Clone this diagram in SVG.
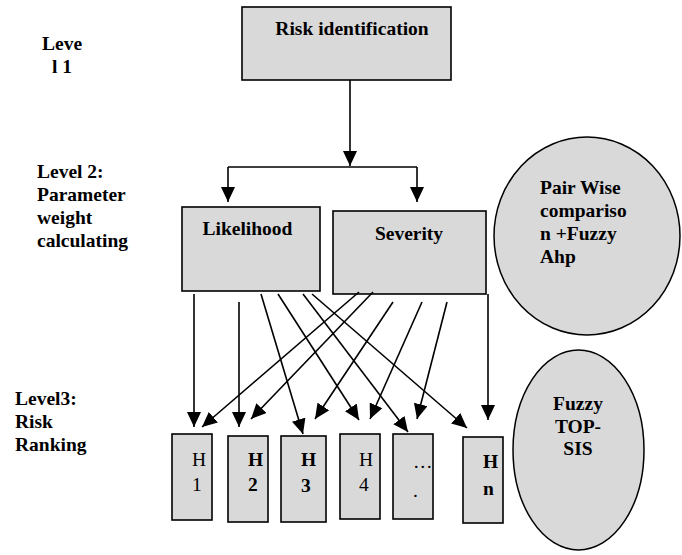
<svg xmlns="http://www.w3.org/2000/svg" width="682" height="555" viewBox="0 0 682 555">
<style>
text{font-family:"Liberation Serif","Times New Roman",serif;font-size:19.5px;fill:#000}
.b{font-weight:bold}
.box{fill:#d9d9d9;stroke:#000;stroke-width:1.6}
.ell{fill:#d9d9d9;stroke:#000;stroke-width:1.5}
.c{text-anchor:middle}
.ln{stroke:#000;stroke-width:1.6;fill:none}
.ar{marker-end:url(#ah)}
</style>
<defs>
<marker id="ah" markerUnits="userSpaceOnUse" markerWidth="15" markerHeight="14" refX="15" refY="7" orient="auto">
<path d="M0,0 L15,7 L0,14 z" fill="#000"/>
</marker>
</defs>
<g id="labels">
<text class="b" x="42" y="50">Leve</text>
<text class="b" x="52" y="73">l 1</text>
<text class="b" x="37" y="178">Level 2:</text>
<text class="b" x="37" y="201">Parameter</text>
<text class="b" x="37" y="224">weight</text>
<text class="b" x="37" y="247">calculating</text>
<text class="b" x="15" y="405">Level3:</text>
<text class="b" x="15" y="428">Risk</text>
<text class="b" x="15" y="451">Ranking</text>
</g>
<g id="risk-identification">
<rect class="box" x="242" y="7" width="209" height="73"/>
<text class="b c" x="352" y="35">Risk identification</text>
</g>
<g id="likelihood">
<rect class="box" x="182" y="207" width="138" height="84"/>
<text class="b c" x="247.5" y="235">Likelihood</text>
</g>
<g id="severity">
<rect class="box" x="333" y="211" width="153" height="83"/>
<text class="b c" x="409" y="240">Severity</text>
</g>
<g id="pairwise">
<ellipse class="ell" cx="587" cy="236" rx="93" ry="99"/>
<text class="b" x="540" y="194">Pair Wise</text>
<text class="b" x="540" y="217">compariso</text>
<text class="b" x="540" y="240">n +Fuzzy</text>
<text class="b" x="540" y="263">Ahp</text>
</g>
<g id="fuzzy-topsis">
<ellipse class="ell" cx="578.5" cy="450" rx="65.5" ry="100"/>
<text class="b c" x="578" y="410">Fuzzy</text>
<text class="b c" x="578" y="433">TOP-</text>
<text class="b c" x="578" y="455">SIS</text>
</g>
<g id="h1">
<rect class="box" x="172" y="434" width="40" height="86"/>
<text x="192" y="466">H</text>
<text x="192" y="491">1</text>
</g>
<g id="h2">
<rect class="box" x="228" y="436" width="40" height="86"/>
<text class="b" x="248" y="466">H</text>
<text class="b" x="248" y="491">2</text>
</g>
<g id="h3">
<rect class="box" x="281" y="436" width="45" height="86"/>
<text class="b" x="301" y="466">H</text>
<text class="b" x="301" y="492">3</text>
</g>
<g id="h4">
<rect class="box" x="340" y="434" width="40" height="85"/>
<text x="359" y="466">H</text>
<text x="359" y="491">4</text>
</g>
<g id="hdots">
<rect class="box" x="393" y="434" width="40" height="85"/>
<text x="413" y="468">…</text>
<text x="413" y="497">.</text>
</g>
<g id="hn">
<rect class="box" x="463" y="437" width="40" height="86"/>
<text class="b" x="483" y="468">H</text>
<text class="b" x="483" y="495">n</text>
</g>
<g id="connectors">
<line class="ln ar" x1="350" y1="80" x2="350" y2="166"/>
<line class="ln" x1="228" y1="167" x2="417" y2="167"/>
<line class="ln ar" x1="228" y1="167" x2="228" y2="202"/>
<line class="ln ar" x1="417" y1="167" x2="417" y2="202"/>
<line class="ln ar" x1="194" y1="294" x2="194" y2="427"/>
<line class="ln ar" x1="359" y1="292" x2="202" y2="427"/>
<line class="ln ar" x1="239" y1="302" x2="239" y2="427"/>
<line class="ln ar" x1="373" y1="292" x2="251" y2="419"/>
<line class="ln ar" x1="261" y1="294" x2="303" y2="434"/>
<line class="ln ar" x1="393" y1="302" x2="315" y2="419"/>
<line class="ln ar" x1="278" y1="294" x2="359" y2="420"/>
<line class="ln ar" x1="422" y1="302" x2="370" y2="419"/>
<line class="ln ar" x1="303" y1="294" x2="408" y2="432"/>
<line class="ln ar" x1="447" y1="302" x2="417" y2="419"/>
<line class="ln ar" x1="312" y1="294" x2="467" y2="428"/>
<line class="ln ar" x1="488" y1="294" x2="488" y2="420"/>
</g>
</svg>
